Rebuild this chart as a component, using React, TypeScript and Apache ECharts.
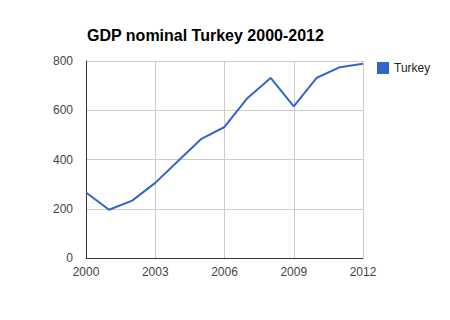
import React, { useEffect, useRef } from "react";
import * as echarts from "echarts";

const years = [2000, 2001, 2002, 2003, 2004, 2005, 2006, 2007, 2008, 2009, 2010, 2011, 2012];
const gdp = [266, 196, 233, 305, 395, 484, 532, 650, 731, 616, 732, 775, 789];
const seriesName = "Turkey";
const titleText = "GDP nominal Turkey 2000-2012";

export default function App() {
  const ref = useRef<HTMLDivElement>(null);
  useEffect(() => {
    document.body.style.margin = "0";
    const chart = echarts.init(ref.current!, null, { renderer: "svg" });
    const font = "Arial, 'Liberation Sans', sans-serif";
    chart.setOption({
      animation: false,
      backgroundColor: "#ffffff",
      textStyle: { fontFamily: font },
      title: {
        text: titleText,
        left: 82,
        top: 22,
        textStyle: { fontSize: 16, fontWeight: "bold", color: "#000", fontFamily: font },
      },
      legend: {
        left: 372,
        top: 57,
        icon: "rect",
        itemWidth: 12,
        itemHeight: 12,
        itemGap: 5,
        textStyle: { fontSize: 12, color: "#222", fontFamily: font },
        data: [seriesName],
      },
      grid: { left: 86, top: 61, right: 87, bottom: 62 },
      xAxis: {
        type: "value",
        min: 2000,
        max: 2012,
        interval: 3,
        axisLine: { show: true, lineStyle: { color: "#333", width: 1 } },
        axisTick: { show: false },
        axisLabel: {
          fontSize: 12,
          color: "#444",
          margin: 8,
          fontFamily: font,
          formatter: (v: number) => String(v),
        },
        splitLine: { show: true, lineStyle: { color: "#ccc", width: 1 } },
      },
      yAxis: {
        type: "value",
        min: 0,
        max: 800,
        interval: 200,
        axisLine: { show: true, lineStyle: { color: "#333", width: 1 } },
        axisTick: { show: false },
        axisLabel: { fontSize: 12, color: "#444", margin: 13, fontFamily: font },
        splitLine: { show: true, lineStyle: { color: "#ccc", width: 1 } },
      },
      series: [
        {
          name: seriesName,
          type: "line",
          data: years.map((y, i) => [y, gdp[i]]),
          symbol: "none",
          color: "#3366cc",
          lineStyle: { color: "#3366cc", width: 2 },
        },
      ],
    });
    return () => chart.dispose();
  }, []);
  return <div ref={ref} style={{ width: 450, height: 320 }} />;
}
